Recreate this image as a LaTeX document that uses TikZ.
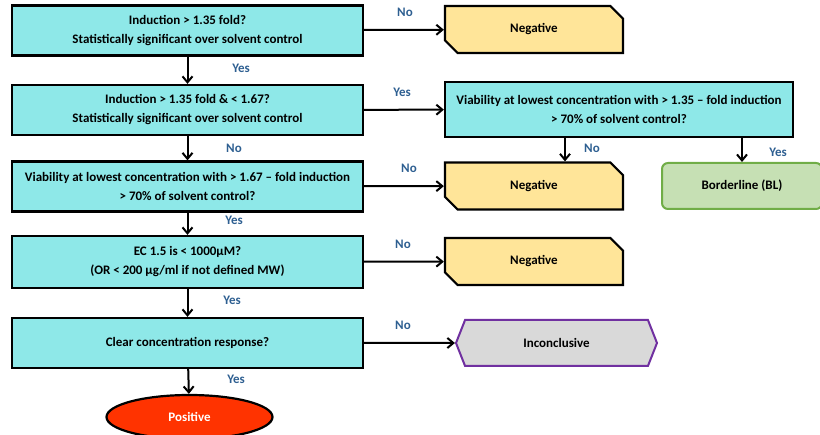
\documentclass[tikz,border=0pt]{standalone}
\usepackage{fontspec}
\setmainfont{Carlito}
\usetikzlibrary{arrows.meta,shapes.geometric,shapes.misc,shapes.symbols}
\definecolor{stepcyan}{RGB}{142,232,232}
\definecolor{negyellow}{RGB}{255,229,153}
\definecolor{blgreen}{RGB}{198,224,180}
\definecolor{blborder}{RGB}{112,173,71}
\definecolor{incgray}{RGB}{217,217,217}
\definecolor{incpurple}{RGB}{112,48,160}
\definecolor{posred}{RGB}{255,51,0}
\definecolor{answerblue}{RGB}{46,95,145}

\tikzset{
  boxtext/.style={font=\fontsize{13}{19}\selectfont\bfseries, align=center, inner sep=0pt},
  question/.style={boxtext, draw=black, line width=2.2pt, fill=stepcyan,
    minimum width=351pt, minimum height=50pt},
  negbox/.style={boxtext, chamfered rectangle, chamfered rectangle corners={north east,south west},
    chamfered rectangle xsep=7pt, chamfered rectangle ysep=7pt,
    draw=black, line width=2.2pt, fill=negyellow, minimum width=178pt, minimum height=47pt},
  blbox/.style={boxtext, draw=blborder, line width=2pt, fill=blgreen, rounded corners=6pt,
    minimum width=160pt, minimum height=46pt},
  incbox/.style={boxtext, signal, signal to=west and east, signal pointer angle=137,
    draw=incpurple, line width=2pt, fill=incgray, minimum width=201pt, minimum height=46pt},
  posbox/.style={boxtext, ellipse, draw=black, line width=2.2pt, fill=posred, text=white,
    minimum width=166pt, minimum height=44pt},
  answer/.style={font=\fontsize{13}{15}\selectfont\bfseries, text=answerblue, inner sep=0pt},
  flow/.style={-{Straight Barb[length=6pt,width=10pt]}, line width=2pt},
}

\begin{document}
\begin{tikzpicture}[x=1pt,y=-1pt]

\useasboundingbox (0,0) rectangle (820,435);

%% main column
\node[question] (q1) at (187.5,30.5) {Induction > 1.35 fold?\\Statistically significant over solvent control};
\node[question] (q2) at (187.5,110) {Induction > 1.35 fold \& < 1.67?\\Statistically significant over solvent control};
\node[question] (q3) at (187.5,186.5) {Viability at lowest concentration with > 1.67 -- fold induction\\> 70\% of solvent control?};
\node[question,minimum height=52pt] (q4) at (187.5,262) {EC 1.5 is < 1000µM?\\(OR < 200 µg/ml if not defined MW)};
\node[question] (q5) at (187.5,343) {Clear concentration response?};
\node[posbox] (pos) at (189.5,417) {Positive};

%% right hand outcomes
\node[negbox] (neg1) at (534,29.5) {Negative};
\node[question,minimum width=348pt,minimum height=55pt] (via) at (619,109.5)
  {Viability at lowest concentration with > 1.35 -- fold induction\\> 70\% of solvent control?};
\node[negbox] (neg2) at (534,186) {Negative};
\node[blbox] (bl) at (742,186) {Borderline (BL)};
\node[negbox] (neg3) at (534,261.5) {Negative};
\node[incbox] (inc) at (556.5,343) {Inconclusive};

%% connectors
\draw[flow] (q1) -- (q2);
\draw[flow] (q2) -- (q3);
\draw[flow] (q3) -- (q4);
\draw[flow] (q4) -- (q5);
\draw[flow] (q5) -- (pos);
\draw[flow] (q1) -- (neg1);
\draw[flow] (q2) -- (via);
\draw[flow] (q3) -- (neg2);
\draw[flow] (q4) -- (neg3);
\draw[flow] (q5) -- (inc);
\draw[flow] ([xshift=31pt]neg2.north |- via.south) -- ([xshift=31pt]neg2.north);
\draw[flow] (bl.north |- via.south) -- (bl.north);

%% answers
\node[answer] (a1) at (405,12) {No};
\node[answer] (a2) at (241,68) {Yes};
\node[answer] (a3) at (402,92) {Yes};
\node[answer] (a4) at (234,148) {No};
\node[answer] (a5) at (592,148) {No};
\node[answer] (a6) at (778,152) {Yes};
\node[answer] (a7) at (409,168) {No};
\node[answer] (a8) at (234,220) {Yes};
\node[answer] (a9) at (403,244) {No};
\node[answer] (a10) at (232,300) {Yes};
\node[answer] (a11) at (403,325) {No};
\node[answer] (a12) at (236,379) {Yes};

\end{tikzpicture}
\end{document}
